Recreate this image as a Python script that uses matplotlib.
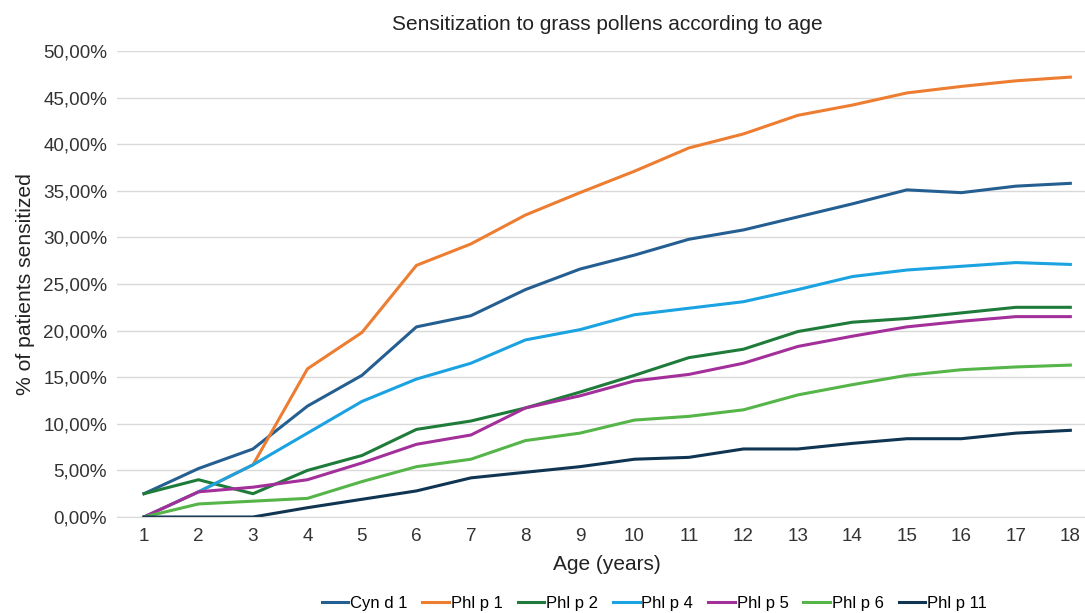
import numpy as np
import matplotlib
matplotlib.use('Agg')
import matplotlib.pyplot as plt
from matplotlib.ticker import FuncFormatter

plt.rcParams['font.family'] = ['Liberation Sans', 'DejaVu Sans']

# ages on the x axis
ages = list(range(1, 19))

# % of patients sensitized, per allergen component
cyn_d_1  = [2.5, 5.2, 7.3, 11.9, 15.2, 20.4, 21.6, 24.4, 26.6, 28.1, 29.8, 30.8, 32.2, 33.6, 35.1, 34.8, 35.5, 35.8]
phl_p_1  = [0.0, 2.7, 5.6, 15.9, 19.8, 27.0, 29.3, 32.4, 34.8, 37.1, 39.6, 41.1, 43.1, 44.2, 45.5, 46.2, 46.8, 47.2]
phl_p_2  = [2.5, 4.0, 2.5, 5.0, 6.6, 9.4, 10.3, 11.7, 13.4, 15.2, 17.1, 18.0, 19.9, 20.9, 21.3, 21.9, 22.5, 22.5]
phl_p_4  = [0.0, 2.7, 5.6, 9.0, 12.4, 14.8, 16.5, 19.0, 20.1, 21.7, 22.4, 23.1, 24.4, 25.8, 26.5, 26.9, 27.3, 27.1]
phl_p_5  = [0.0, 2.7, 3.2, 4.0, 5.8, 7.8, 8.8, 11.7, 13.0, 14.6, 15.3, 16.5, 18.3, 19.4, 20.4, 21.0, 21.5, 21.5]
phl_p_6  = [0.0, 1.4, 1.7, 2.0, 3.8, 5.4, 6.2, 8.2, 9.0, 10.4, 10.8, 11.5, 13.1, 14.2, 15.2, 15.8, 16.1, 16.3]
phl_p_11 = [0.0, 0.0, 0.0, 1.0, 1.9, 2.8, 4.2, 4.8, 5.4, 6.2, 6.4, 7.3, 7.3, 7.9, 8.4, 8.4, 9.0, 9.3]

labels = ['Cyn d 1', 'Phl p 1', 'Phl p 2', 'Phl p 4', 'Phl p 5', 'Phl p 6', 'Phl p 11']
series = [cyn_d_1, phl_p_1, phl_p_2, phl_p_4, phl_p_5, phl_p_6, phl_p_11]
colors = ['#255e91', '#ed7d31', '#1e7b3a', '#1aa3e0', '#a3309a', '#55b548', '#0f3553']

fig = plt.figure(figsize=(10.85, 6.13), dpi=100)
ax = fig.add_axes([0.1076, 0.1566, 0.904, 0.7602])

for vals, lab, col in zip(series, labels, colors):
    ax.plot(ages, np.array(vals) / 100.0, color=col, lw=2.2, label=lab, solid_joinstyle='round')

ax.set_xlim(0.5, 18.5)
ax.set_ylim(0, 0.5)
ax.set_yticks(np.arange(0, 0.501, 0.05))
ax.yaxis.set_major_formatter(FuncFormatter(lambda v, p: ('%.2f%%' % (v * 100)).replace('.', ',')))
ax.set_xticks(ages)
ax.tick_params(axis='both', length=0, labelsize=13.6, colors='#333333')
ax.tick_params(axis='x', pad=8)
ax.tick_params(axis='y', pad=7)
ax.grid(axis='y', color='#d9d9d9', lw=1)
ax.set_axisbelow(True)
for s in ['top', 'right', 'left']:
    ax.spines[s].set_visible(False)
ax.spines['bottom'].set_color('#d9d9d9')

ax.set_title('Sensitization to grass pollens according to age', fontsize=15, color='#222222', pad=15)
ax.set_xlabel('Age (years)', fontsize=15, color='#222222', labelpad=7)
ax.set_ylabel('% of patients sensitized', fontsize=15.2, color='#222222', labelpad=6)

fig.legend(loc='center', bbox_to_anchor=(0.603, 0.016), ncol=7, frameon=False,
           fontsize=12, handlelength=1.6, handletextpad=0.1, columnspacing=0.9)

fig.savefig('out.png', dpi=100)
